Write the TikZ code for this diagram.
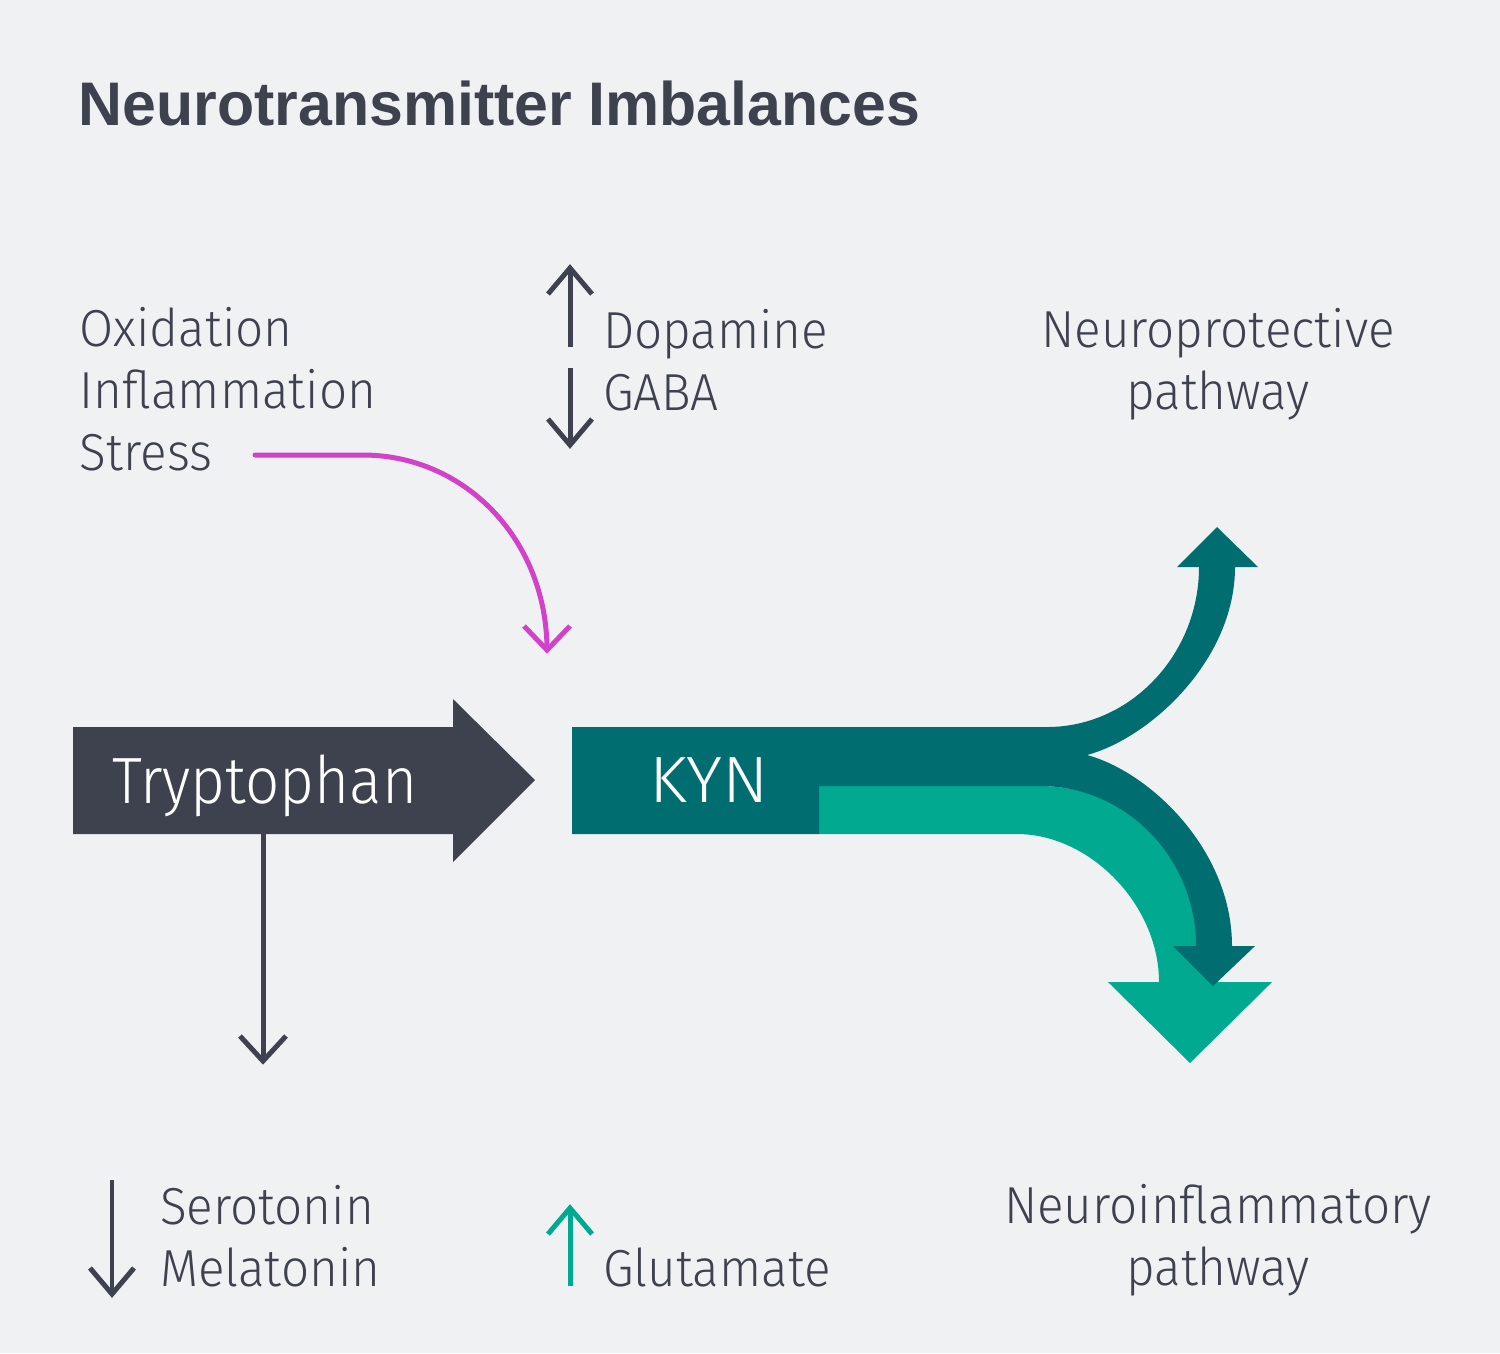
\documentclass[tikz,border=0pt]{standalone}
\usepackage{fontspec}
\usepackage{graphicx}
\setmainfont{Fira Sans Light}[FakeStretch=0.95]
\newfontfamily\myBigFont{Fira Sans Light}[FakeStretch=0.92]
\newfontfamily\myTitleFont{Liberation Sans}
\definecolor{bgc}{HTML}{EFF1F3}
\definecolor{darkc}{HTML}{3D424E}
\definecolor{tealc}{HTML}{006E70}
\definecolor{greenc}{HTML}{00A990}
\definecolor{magc}{HTML}{D142C9}
\newcommand{\myBody}{\fontsize{14.8pt}{17.6pt}\selectfont}
\newcommand{\myBig}{\myBigFont\fontsize{18.6pt}{22pt}\selectfont}
\tikzset{
  lbl/.style={anchor=base west, inner sep=0pt, outer sep=0pt, text=darkc, font=\myBody},
  clbl/.style={anchor=base, inner sep=0pt, outer sep=0pt, text=darkc, font=\myBody},
  biglbl/.style={anchor=base west, inner sep=0pt, outer sep=0pt, text=white, font=\myBig},
  conn/.style={line width=1.42pt, line cap=butt, line join=miter},
}
\begin{document}
\begin{tikzpicture}[x=0.01cm,y=-0.01cm]
\useasboundingbox (0,0) rectangle (1500,1353);
\fill[bgc] (0,0) rectangle (1500,1353);

% title
\node[anchor=base west, inner sep=0pt, text=darkc] (title) at (78,125)
  {\resizebox{8.41cm}{\height}{\myTitleFont\bfseries\fontsize{17.5pt}{20pt}\selectfont Neurotransmitter Imbalances}};

% left labels
\node[lbl] (oxid) at (80,346) {Oxidation};
\node[lbl] (infl) at (80,408) {Inflammation};
\node[lbl] (stress) at (80,470) {Stress};

% dopamine / GABA
\node[lbl] (dopa) at (603,348) {Dopamine};
\node[lbl] (gaba) at (603,410) {GABA};
\coordinate (dopaTop) at (570,268);
\coordinate (dopaBot) at (570,347);
\coordinate (gabaTop) at (570,368);
\coordinate (gabaTip) at (570,445);
\draw[conn,darkc] (dopaBot) -- (dopaTop);
\draw[conn,darkc] ([shift={(-22,26)}]dopaTop) -- (dopaTop) -- ([shift={(22,26)}]dopaTop);
\draw[conn,darkc] (gabaTop) -- (gabaTip);
\draw[conn,darkc] ([shift={(-22,-26)}]gabaTip) -- (gabaTip) -- ([shift={(22,-26)}]gabaTip);

% right labels
\node[clbl] (nprot) at (1218,347) {Neuroprotective};
\node[clbl] (nprot2) at (1218,409) {pathway};
\node[clbl] (ninf) at (1218,1223) {Neuroinflammatory};
\node[clbl] (ninf2) at (1218,1285) {pathway};

% magenta influence arrow
\coordinate (magStart) at (255,455);
\coordinate (magTip) at (547,650);
\draw[conn,magc,line cap=round] (magStart) -- (363,455) .. controls (465,455) and (547,540) .. (magTip);
\draw[conn,magc] ([shift={(-23,-24)}]magTip) -- (magTip) -- ([shift={(23,-24)}]magTip);

% Tryptophan arrow
\fill[darkc] (73,727) -- (453,727) -- (453,699) -- (535,780) -- (453,862) -- (453,834) -- (73,834) -- cycle;
\node[biglbl] (tryp) at (112,803) {Tryptophan};

% Tryptophan down arrow
\coordinate (trypBot) at (263,834);
\coordinate (trypTip) at (263,1061);
\draw[conn,darkc] (trypBot) -- (trypTip);
\draw[conn,darkc] ([shift={(-23,-25)}]trypTip) -- (trypTip) -- ([shift={(23,-25)}]trypTip);

% green neuroinflammatory branch
\fill[greenc] (819,786) -- (1040,786) .. controls (1126,786) and (1214,858) .. (1214,946)
  -- (1214,982) -- (1272,982) -- (1190,1063) -- (1108,982) -- (1159,982)
  .. controls (1159,905) and (1090,834) .. (1017,834) -- (819,834) -- cycle;

% KYN teal body with branches
\fill[tealc] (572,727) -- (1047,727) .. controls (1131,727) and (1199,654) .. (1199,567)
  -- (1177,567) -- (1217,527) -- (1258,567) -- (1235,567)
  .. controls (1235,660) and (1150,738) .. (1087,755)
  .. controls (1150,772) and (1232,850) .. (1232,946)
  -- (1255,946) -- (1213,986) -- (1173,946) -- (1196,946)
  .. controls (1196,858) and (1126,786) .. (1040,786)
  -- (819,786) -- (819,834) -- (572,834) -- cycle;
\node[biglbl] (kyn) at (649,802) {\resizebox{1.2cm}{\height}{KYN}};

% bottom labels
\node[lbl] (sero) at (160,1224) {Serotonin};
\node[lbl] (mela) at (160,1286) {Melatonin};
\coordinate (seroTop) at (112,1180);
\coordinate (seroTip) at (112,1294);
\draw[conn,darkc] (seroTop) -- (seroTip);
\draw[conn,darkc] ([shift={(-22,-26)}]seroTip) -- (seroTip) -- ([shift={(22,-26)}]seroTip);

\node[lbl] (glut) at (603,1286) {Glutamate};
\coordinate (glutBot) at (570,1286);
\coordinate (glutTip) at (570,1208);
\draw[conn,greenc] (glutBot) -- (glutTip);
\draw[conn,greenc] ([shift={(-22,26)}]glutTip) -- (glutTip) -- ([shift={(22,26)}]glutTip);
\end{tikzpicture}
\end{document}
